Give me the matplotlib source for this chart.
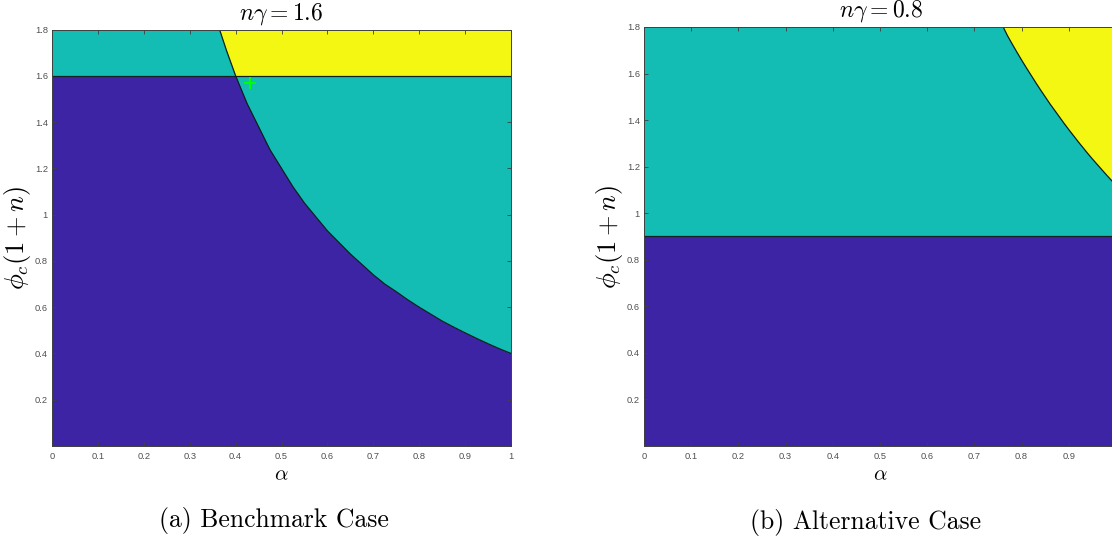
"""
Two region maps of phi_c(1+n) against alpha for two values of n*gamma.
"""

import matplotlib.pyplot as plt
import numpy as np

plt.rcParams["mathtext.fontset"] = "cm"

# (a) benchmark case, n*gamma = 1.6
LEFT_THRESHOLD = 1.6
LEFT_CURVE_ALPHA = [0.365, 0.38, 0.40, 0.425, 0.45, 0.475, 0.50, 0.525,
                    0.55, 0.575, 0.60, 0.625, 0.65, 0.675, 0.70, 0.725,
                    0.75, 0.775, 0.80, 0.825, 0.85, 0.875, 0.90, 0.925,
                    0.95, 0.975, 1.00]
LEFT_CURVE_PHI = [1.80, 1.71, 1.60, 1.48, 1.38, 1.28, 1.20, 1.12,
                  1.05, 0.99, 0.93, 0.88, 0.83, 0.785, 0.74, 0.70,
                  0.667, 0.632, 0.60, 0.57, 0.54, 0.514, 0.489, 0.465,
                  0.442, 0.42, 0.40]
LEFT_MARK = (0.431, 1.569)

# (b) alternative case, n*gamma = 0.8
RIGHT_THRESHOLD = 0.9
RIGHT_CURVE_ALPHA = [0.761, 0.77, 0.78, 0.79, 0.80, 0.81, 0.82, 0.83,
                     0.84, 0.85, 0.86, 0.87, 0.88, 0.89, 0.90, 0.91,
                     0.92, 0.93, 0.94, 0.95, 0.96, 0.97, 0.98, 0.99, 1.00]
RIGHT_CURVE_PHI = [1.80, 1.763, 1.727, 1.692, 1.658, 1.625, 1.593, 1.561,
                   1.530, 1.500, 1.470, 1.442, 1.414, 1.386, 1.359, 1.333,
                   1.307, 1.282, 1.257, 1.233, 1.210, 1.187, 1.164, 1.142,
                   1.12]

TITLES = [r"$n\gamma = 1.6$", r"$n\gamma = 0.8$"]
CAPTIONS = ["(a) Benchmark Case", "(b) Alternative Case"]

X_TICKS = [0, 0.1, 0.2, 0.3, 0.4, 0.5, 0.6, 0.7, 0.8, 0.9, 1]
Y_TICKS = [0.2, 0.4, 0.6, 0.8, 1, 1.2, 1.4, 1.6, 1.8]

BLUE = "#3d24a4"
TEAL = "#13bdb3"
YELLOW = "#f4f712"
AXIS_GRAY = "#404040"
LABEL_GRAY = "#505050"

W, H = 1112, 540


def fmt(v):
    return f"{v:g}"


def style_axes(ax, last_xlabel=True):
    ax.set_xlim(0, 1)
    ax.set_ylim(0, 1.8)
    ax.set_xticks(X_TICKS)
    xlabels = [fmt(v) for v in X_TICKS]
    if not last_xlabel:
        # the "1" of the right panel falls outside the picture
        xlabels[-1] = ""
    ax.set_xticklabels(xlabels)
    ax.set_yticks(Y_TICKS)
    ax.set_yticklabels([fmt(v) for v in Y_TICKS])
    ax.tick_params(direction="in", length=3, width=0.6, colors=AXIS_GRAY,
                   labelcolor=LABEL_GRAY, labelsize=6.7, top=True,
                   right=True)
    ax.tick_params(axis="x", pad=4.5)
    ax.tick_params(axis="y", pad=3)
    for lab in ax.get_xticklabels() + ax.get_yticklabels():
        lab.set_family("Liberation Sans")
    for sp in ax.spines.values():
        sp.set_color(AXIS_GRAY)
        sp.set_linewidth(0.7)
    ax.set_xlabel(r"$\alpha$", fontsize=15, labelpad=2)
    ax.set_ylabel(r"$\phi_c(1+n)$", fontsize=19, labelpad=1)


def draw_regions(ax, thr, ca, cp, upper_yellow):
    ca = np.array(ca)
    cp = np.array(cp)
    ax.set_facecolor(TEAL)
    # blue: below the threshold and below the curve
    bx = np.concatenate([[0.0], ca])
    by = np.concatenate([[thr], np.minimum(cp, thr)])
    ax.fill_between(bx, 0, by, color=BLUE, lw=0)
    # yellow: above the threshold and above the curve
    ax.fill_between(ca, np.maximum(cp, thr) if upper_yellow else cp, 1.8,
                    color=YELLOW, lw=0)
    ax.axhline(thr, color="#102020", lw=0.9)
    ax.plot(ca, cp, color="#102020", lw=0.9)


def main():
    fig = plt.figure(figsize=(W / 100, H / 100), dpi=100)

    ax1 = fig.add_axes([52 / W, 94 / H, 459 / W, 416.5 / H])
    draw_regions(ax1, LEFT_THRESHOLD, LEFT_CURVE_ALPHA, LEFT_CURVE_PHI, True)
    ax1.plot(*LEFT_MARK, marker="+", color="#00ff00", ms=8, mew=1.5)
    style_axes(ax1)

    ax2 = fig.add_axes([644 / W, 94 / H, 472 / W, 419 / H])
    draw_regions(ax2, RIGHT_THRESHOLD, RIGHT_CURVE_ALPHA, RIGHT_CURVE_PHI,
                 False)
    style_axes(ax2, last_xlabel=False)

    fig.text(281 / W, 1 - 14 / H, TITLES[0], ha="center", va="center",
             fontsize=17)
    fig.text(881 / W, 1 - 11 / H, TITLES[1], ha="center", va="center",
             fontsize=17)
    fig.text(274 / W, 1 - 521 / H, CAPTIONS[0], ha="center", va="center",
             fontsize=18.5, family="cmr10")
    fig.text(866 / W, 1 - 522 / H, CAPTIONS[1], ha="center", va="center",
             fontsize=18.5, family="cmr10")

    fig.savefig("out.png", dpi=100)


if __name__ == "__main__":
    main()
